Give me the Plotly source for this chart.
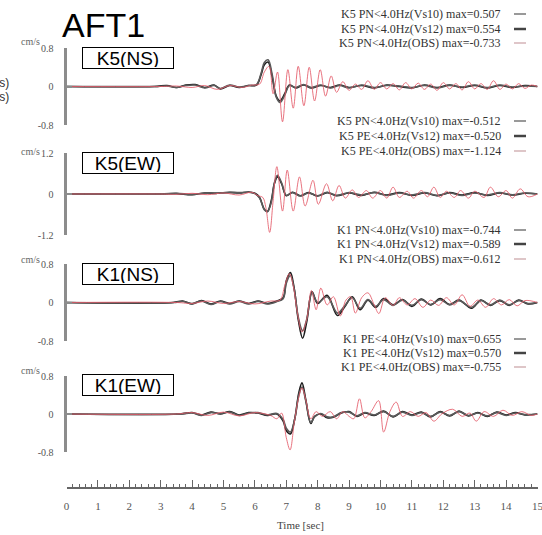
import plotly.graph_objects as go

W, H = 542, 535

# ---------------- data ----------------
# K5 (NS)
t_k5ns_s = [0, 2.8, 3.2, 3.5, 3.8, 4.1, 4.4, 4.7, 4.9, 5.2, 5.5, 5.8, 6.05, 6.2, 6.3, 6.42, 6.55, 6.68, 6.8, 6.95, 7.1, 7.3, 7.55, 7.8, 8.1, 8.4, 8.7, 9.0, 9.4, 9.8, 10.2, 10.6, 11.0, 11.4, 11.8, 12.2, 12.6, 13.0, 13.4, 13.8, 14.2, 14.6, 15]
k5ns_vs10 = [0, 0, 0.02, -0.02, 0.03, 0.04, -0.02, 0.03, -0.05, 0.02, -0.02, 0.02, 0.03, 0.25, 0.45, 0.507, 0.2, -0.2, -0.3, -0.15, 0.03, -0.03, 0.03, -0.03, 0.02, -0.02, 0.03, -0.02, 0.02, -0.03, 0.03, 0.0, -0.03, 0.03, -0.02, 0.03, -0.02, 0.02, -0.03, 0.02, -0.02, 0.02, 0.0]
k5ns_vs12 = [0, 0, 0.01, -0.02, 0.02, 0.03, -0.03, 0.02, -0.04, 0.03, -0.01, 0.02, 0.04, 0.28, 0.5, 0.554, 0.25, -0.22, -0.33, -0.18, 0.02, -0.02, 0.04, -0.02, 0.03, -0.03, 0.02, -0.03, 0.03, -0.02, 0.02, 0.01, -0.02, 0.02, -0.03, 0.02, -0.01, 0.03, -0.02, 0.03, -0.01, 0.01, 0.0]
t_k5ns_o = [0, 3.0, 3.5, 4.0, 4.4, 4.8, 5.2, 5.6, 5.9, 6.15, 6.3, 6.45, 6.58, 6.72, 6.88, 7.05, 7.22, 7.38, 7.56, 7.73, 7.9, 8.08, 8.25, 8.43, 8.6, 8.8, 9.0, 9.2, 9.4, 9.6, 9.8, 10.0, 10.2, 10.4, 10.6, 10.8, 11.0, 11.2, 11.4, 11.6, 11.8, 12.0, 12.2, 12.4, 12.6, 12.8, 13.0, 13.2, 13.4, 13.6, 13.8, 14.0, 14.2, 14.4, 14.6, 14.8, 15]
k5ns_obs = [0, 0, 0.01, -0.02, 0.02, -0.06, 0.02, -0.02, 0.03, 0.05, 0.3, 0.42, -0.15, 0.3, -0.733, 0.35, -0.45, 0.42, -0.4, 0.4, -0.3, 0.35, -0.2, 0.22, -0.12, 0.1, -0.08, 0.05, -0.06, 0.12, -0.06, 0.08, -0.05, 0.06, -0.07, 0.08, -0.05, 0.07, -0.06, 0.05, -0.08, 0.08, -0.05, 0.06, -0.07, 0.1, -0.05, 0.06, -0.06, 0.12, -0.06, 0.05, -0.05, 0.06, -0.04, 0.03, 0.0]

# K5 (EW)
t_k5ew_s = [0, 3.0, 3.5, 4.0, 4.4, 4.8, 5.2, 5.5, 5.8, 6.0, 6.15, 6.3, 6.4, 6.52, 6.62, 6.72, 6.85, 7.0, 7.2, 7.45, 7.7, 8.0, 8.3, 8.6, 9.0, 9.4, 9.8, 10.2, 10.6, 11.0, 11.4, 11.8, 12.2, 12.6, 13.0, 13.4, 13.8, 14.2, 14.6, 15]
k5ew_vs10 = [0, 0, 0.01, -0.02, 0.03, 0.02, 0.05, 0.03, 0.06, 0.02, -0.1, -0.45, -0.512, -0.2, 0.3, 0.5, 0.3, -0.05, 0.05, -0.05, 0.04, -0.06, 0.04, -0.05, 0.03, -0.04, 0.05, -0.03, 0.04, -0.04, 0.03, -0.05, 0.04, -0.03, 0.04, -0.04, 0.03, -0.03, 0.02, 0]
k5ew_vs12 = [0, 0, 0.02, -0.01, 0.02, 0.03, 0.04, 0.04, 0.05, 0.01, -0.12, -0.46, -0.52, -0.25, 0.32, 0.55, 0.33, -0.04, 0.04, -0.06, 0.03, -0.05, 0.05, -0.04, 0.04, -0.03, 0.04, -0.04, 0.03, -0.03, 0.04, -0.04, 0.03, -0.04, 0.03, -0.03, 0.04, -0.02, 0.03, 0]
t_k5ew_o = [0, 3.0, 3.5, 4.0, 4.5, 5.0, 5.5, 5.9, 6.1, 6.25, 6.35, 6.47, 6.58, 6.7, 6.88, 7.03, 7.22, 7.42, 7.6, 7.85, 8.02, 8.28, 8.48, 8.68, 8.88, 9.1, 9.3, 9.55, 9.75, 10.0, 10.2, 10.4, 10.6, 10.85, 11.05, 11.3, 11.5, 11.7, 11.9, 12.1, 12.35, 12.55, 12.8, 13.0, 13.3, 13.5, 13.75, 14.0, 14.2, 14.45, 14.7, 15]
k5ew_obs = [0, 0, -0.01, 0.02, -0.02, 0.03, -0.03, 0.05, -0.05, -0.1, -0.4, -1.124, -0.2, 0.8, -0.5, 0.7, -0.5, 0.5, -0.35, 0.4, -0.3, 0.3, -0.2, 0.25, -0.12, 0.12, -0.1, 0.1, -0.12, 0.1, -0.12, 0.2, -0.1, 0.08, -0.12, 0.1, -0.08, 0.2, -0.1, 0.08, -0.1, 0.1, -0.12, 0.08, -0.1, 0.2, -0.08, 0.1, -0.12, 0.15, -0.08, 0.0]

# K1 (NS)
t_k1ns_s = [0, 3.4, 3.7, 4.0, 4.3, 4.6, 4.9, 5.2, 5.5, 5.8, 6.1, 6.4, 6.7, 6.9, 7.0, 7.13, 7.25, 7.38, 7.52, 7.65, 7.82, 8.0, 8.3, 8.63, 8.85, 9.1, 9.35, 9.6, 9.85, 10.1, 10.4, 10.7, 11.0, 11.3, 11.6, 11.9, 12.2, 12.5, 12.9, 13.2, 13.5, 13.8, 14.1, 14.4, 14.7, 15]
k1ns_vs10 = [0, 0, 0.03, -0.03, 0.04, -0.03, 0.03, -0.02, 0.03, -0.02, 0.03, -0.02, 0.03, 0.1, 0.45, 0.62, 0.3, -0.35, -0.744, -0.4, 0.22, -0.02, 0.15, -0.27, -0.1, 0.12, -0.15, 0.05, -0.1, 0.08, -0.05, 0.06, -0.08, 0.07, -0.05, 0.08, -0.04, 0.05, -0.12, 0.05, -0.06, 0.04, -0.06, 0.05, -0.03, 0]
k1ns_vs12 = [0, 0, 0.02, -0.02, 0.03, -0.04, 0.02, -0.03, 0.02, -0.03, 0.02, -0.03, 0.02, 0.08, 0.4, 0.56, 0.28, -0.3, -0.589, -0.35, 0.2, 0.0, 0.12, -0.22, -0.08, 0.1, -0.12, 0.06, -0.08, 0.06, -0.06, 0.05, -0.06, 0.06, -0.04, 0.06, -0.05, 0.04, -0.1, 0.04, -0.05, 0.05, -0.05, 0.04, -0.02, 0]
t_k1ns_o = [0, 3.5, 4.0, 4.5, 5.0, 5.5, 6.0, 6.5, 6.8, 6.95, 7.1, 7.22, 7.35, 7.5, 7.65, 7.8, 7.95, 8.1, 8.3, 8.5, 8.72, 8.9, 9.05, 9.2, 9.4, 9.6, 9.8, 9.95, 10.15, 10.4, 10.6, 10.85, 11.1, 11.35, 11.6, 11.85, 12.1, 12.35, 12.6, 12.85, 13.1, 13.35, 13.6, 13.85, 14.1, 14.35, 14.6, 15]
k1ns_obs = [0, 0, -0.02, 0.03, -0.02, 0.02, -0.03, 0.03, 0.05, 0.35, 0.6, 0.35, -0.2, -0.612, -0.35, 0.25, -0.15, 0.3, -0.05, 0.12, -0.28, 0.05, 0.12, -0.22, 0.1, 0.2, -0.05, -0.23, 0.1, -0.06, 0.1, -0.05, 0.08, -0.1, 0.05, -0.06, 0.1, -0.05, 0.16, -0.08, 0.05, -0.1, 0.08, -0.05, 0.06, -0.07, 0.04, 0]

# K1 (EW)
t_k1ew_s = [0, 3.6, 4.0, 4.3, 4.6, 4.9, 5.2, 5.5, 5.8, 6.1, 6.4, 6.7, 6.9, 7.0, 7.13, 7.27, 7.4, 7.5, 7.62, 7.78, 7.9, 8.1, 8.3, 8.5, 8.75, 9.0, 9.25, 9.5, 9.8, 10.1, 10.4, 10.7, 11.0, 11.3, 11.6, 11.9, 12.2, 12.5, 12.8, 13.1, 13.4, 13.7, 14.0, 14.3, 14.6, 15]
k1ew_vs10 = [0, 0, 0.03, -0.02, 0.04, 0.0, 0.05, -0.02, 0.03, 0.02, -0.03, 0.0, -0.15, -0.35, -0.42, -0.1, 0.45, 0.655, 0.3, -0.2, -0.05, 0.0, -0.08, -0.07, 0.02, 0.05, -0.05, 0.02, -0.03, 0.06, -0.06, 0.05, -0.02, 0.04, -0.06, 0.05, -0.04, 0.06, -0.04, 0.03, -0.05, 0.04, -0.02, 0.03, -0.02, 0]
k1ew_vs12 = [0, 0, 0.02, -0.03, 0.03, 0.01, 0.04, -0.03, 0.02, 0.03, -0.02, 0.01, -0.12, -0.3, -0.38, -0.1, 0.4, 0.57, 0.28, -0.18, -0.06, 0.01, -0.06, -0.06, 0.03, 0.04, -0.04, 0.03, -0.02, 0.05, -0.05, 0.04, -0.03, 0.03, -0.05, 0.04, -0.03, 0.05, -0.03, 0.02, -0.04, 0.03, -0.03, 0.02, -0.01, 0]
t_k1ew_o = [0, 3.5, 4.0, 4.5, 5.0, 5.5, 6.0, 6.5, 6.7, 6.85, 7.0, 7.12, 7.25, 7.38, 7.5, 7.62, 7.78, 7.95, 8.15, 8.4, 8.6, 8.8, 9.0, 9.15, 9.33, 9.5, 9.7, 9.94, 10.1, 10.3, 10.5, 10.7, 10.95, 11.2, 11.45, 11.7, 11.95, 12.3, 12.6, 12.85, 13.05, 13.3, 13.6, 13.9, 14.2, 14.5, 14.8, 15]
k1ew_obs = [0, 0, 0.03, -0.03, 0.04, -0.04, 0.03, -0.03, -0.1, 0.02, -0.5, -0.755, -0.2, 0.3, 0.55, 0.3, -0.1, 0.05, -0.05, 0.05, -0.1, 0.05, -0.05, -0.1, 0.32, -0.08, 0.05, 0.28, -0.38, 0.05, 0.25, -0.05, 0.05, -0.05, 0.03, -0.15, 0.0, 0.1, -0.05, 0.02, -0.15, 0.05, -0.05, 0.08, -0.03, 0.05, -0.03, 0]

panel_names = ["K5(NS)", "K5(EW)", "K1(NS)", "K1(EW)"]
legend_texts = [
    ["K5 PN<4.0Hz(Vs10) max=0.507", "K5 PN<4.0Hz(Vs12) max=0.554", "K5 PN<4.0Hz(OBS) max=-0.733"],
    ["K5 PN<4.0Hz(Vs10) max=-0.512", "K5 PE<4.0Hz(Vs12) max=-0.520", "K5 PE<4.0Hz(OBS) max=-1.124"],
    ["K1 PN<4.0Hz(Vs10) max=-0.744", "K1 PN<4.0Hz(Vs12) max=-0.589", "K1 PN<4.0Hz(OBS) max=-0.612"],
    ["K1 PE<4.0Hz(Vs10) max=0.655", "K1 PE<4.0Hz(Vs12) max=0.570", "K1 PE<4.0Hz(OBS) max=-0.755"],
]
y_limits = [0.8, 1.2, 0.8, 0.8]
x_ticks = list(range(0, 16))

series = [
    (t_k5ns_s, k5ns_vs10, k5ns_vs12, t_k5ns_o, k5ns_obs),
    (t_k5ew_s, k5ew_vs10, k5ew_vs12, t_k5ew_o, k5ew_obs),
    (t_k1ns_s, k1ns_vs10, k1ns_vs12, t_k1ns_o, k1ns_obs),
    (t_k1ew_s, k1ew_vs10, k1ew_vs12, t_k1ew_o, k1ew_obs),
]

# ---------------- layout geometry (pixels) ----------------
def px(x):
    return x / W

def py(y):
    return 1 - y / H

panel_px = [(48, 125), (153, 235), (264, 341), (376, 452)]
box_cy = [58, 163, 274, 385]
cms_y = [41, 151, 259, 370]
legend_rows = [[14, 29, 43], [121, 136, 151], [230, 244, 259], [339, 353, 367]]

AXC = "#8c8c8c"
SERIF = "Liberation Serif, Times New Roman, serif"
SANS = "Liberation Sans, Arial, sans-serif"

fig = go.Figure()
layout = dict(
    width=W, height=H, template="none",
    margin=dict(l=0, r=0, t=0, b=0),
    paper_bgcolor="white", plot_bgcolor="rgba(0,0,0,0)",
    showlegend=False,
    xaxis=dict(
        domain=[px(66.5), px(537.5)], range=[0, 15], anchor="free", position=py(488),
        showline=True, linecolor="#666", linewidth=1.5,
        tickvals=x_ticks, ticks="inside", ticklen=7, tickwidth=1.2, tickcolor="#666",
        minor=dict(dtick=0.2, ticks="inside", ticklen=3, tickwidth=1, tickcolor="#666"),
        tickfont=dict(family=SERIF, size=11, color="#555"),
        ticklabelstandoff=8, ticklabeloverflow="allow",
        showgrid=False, zeroline=False, automargin=False,
    ),
)
annotations = []
shapes = []

for i, (ts, v10, v12, to, vo) in enumerate(series):
    yname = "y" if i == 0 else f"y{i+1}"
    lname = "yaxis" if i == 0 else f"yaxis{i+1}"
    lim = y_limits[i]
    top, bot = panel_px[i]
    layout[lname] = dict(
        domain=[py(bot), py(top)], range=[-lim, lim], anchor="x",
        showline=True, linecolor=AXC, linewidth=3,
        tickvals=[-lim, 0, lim], ticktext=[f"-{lim}", "0", f"{lim}"],
        ticks="inside", ticklen=5, tickwidth=2, tickcolor=AXC,
        ticklabelstandoff=8,
        tickfont=dict(family=SERIF, size=10, color="#555"),
        showgrid=False, zeroline=False, automargin=False,
    )
    fig.add_trace(go.Scatter(x=ts, y=v10, yaxis=yname, mode="lines",
                             line=dict(color="#1a1a1a", width=1.6, shape="spline", smoothing=1.0)))
    fig.add_trace(go.Scatter(x=ts, y=v12, yaxis=yname, mode="lines",
                             line=dict(color="#5a5a5a", width=1.6, shape="spline", smoothing=1.0)))
    fig.add_trace(go.Scatter(x=to, y=vo, yaxis=yname, mode="lines",
                             line=dict(color="rgba(228,90,105,0.85)", width=1, shape="spline", smoothing=1.0)))

    # panel label box
    annotations.append(dict(
        xref="paper", yref="paper", x=px(128), y=py(box_cy[i]), xanchor="center", yanchor="middle",
        text=panel_names[i], showarrow=False, width=88, height=18, borderpad=1,
        bordercolor="black", borderwidth=1, bgcolor="white",
        font=dict(family=SANS, size=19, color="black"),
    ))
    # unit label
    annotations.append(dict(
        xref="paper", yref="paper", x=px(42), y=py(cms_y[i]), xanchor="right", yanchor="middle",
        text="cm/s", showarrow=False, font=dict(family=SERIF, size=10, color="#666"),
    ))
    # legend
    sample_styles = [("#777", 1.5), ("#444", 2.5), ("#c9a0a4", 1.2)]
    for j, txt in enumerate(legend_texts[i]):
        ry = legend_rows[i][j]
        annotations.append(dict(
            xref="paper", yref="paper", x=px(503), y=py(ry), xanchor="right", yanchor="middle",
            text=txt.replace("<", "&lt;"), showarrow=False,
            font=dict(family=SERIF, size=12, color="#333"),
        ))
        col, lw = sample_styles[j]
        shapes.append(dict(type="line", xref="paper", yref="paper",
                           x0=px(514), x1=px(526), y0=py(ry), y1=py(ry),
                           line=dict(color=col, width=lw)))

# title and clipped side labels
annotations.append(dict(xref="paper", yref="paper", x=px(103), y=py(25), xanchor="center", yanchor="middle",
                        text="AFT1", showarrow=False, font=dict(family=SANS, size=34, color="black")))
annotations.append(dict(xref="paper", yref="paper", x=px(11), y=py(83), xanchor="right", yanchor="middle",
                        text="(cm/s)", showarrow=False, font=dict(family=SANS, size=12, color="#333")))
annotations.append(dict(xref="paper", yref="paper", x=px(11), y=py(97), xanchor="right", yanchor="middle",
                        text="(cm/s)", showarrow=False, font=dict(family=SANS, size=12, color="#333")))
annotations.append(dict(xref="paper", yref="paper", x=px(300), y=py(525), xanchor="center", yanchor="middle",
                        text="Time [sec]", showarrow=False, font=dict(family=SERIF, size=11, color="#444")))

layout["annotations"] = annotations
layout["shapes"] = shapes
fig.update_layout(**layout)
fig.write_html("out.html", config={"displayModeBar": False},
               post_script="document.body.style.margin='0';document.body.style.overflow='hidden';")
